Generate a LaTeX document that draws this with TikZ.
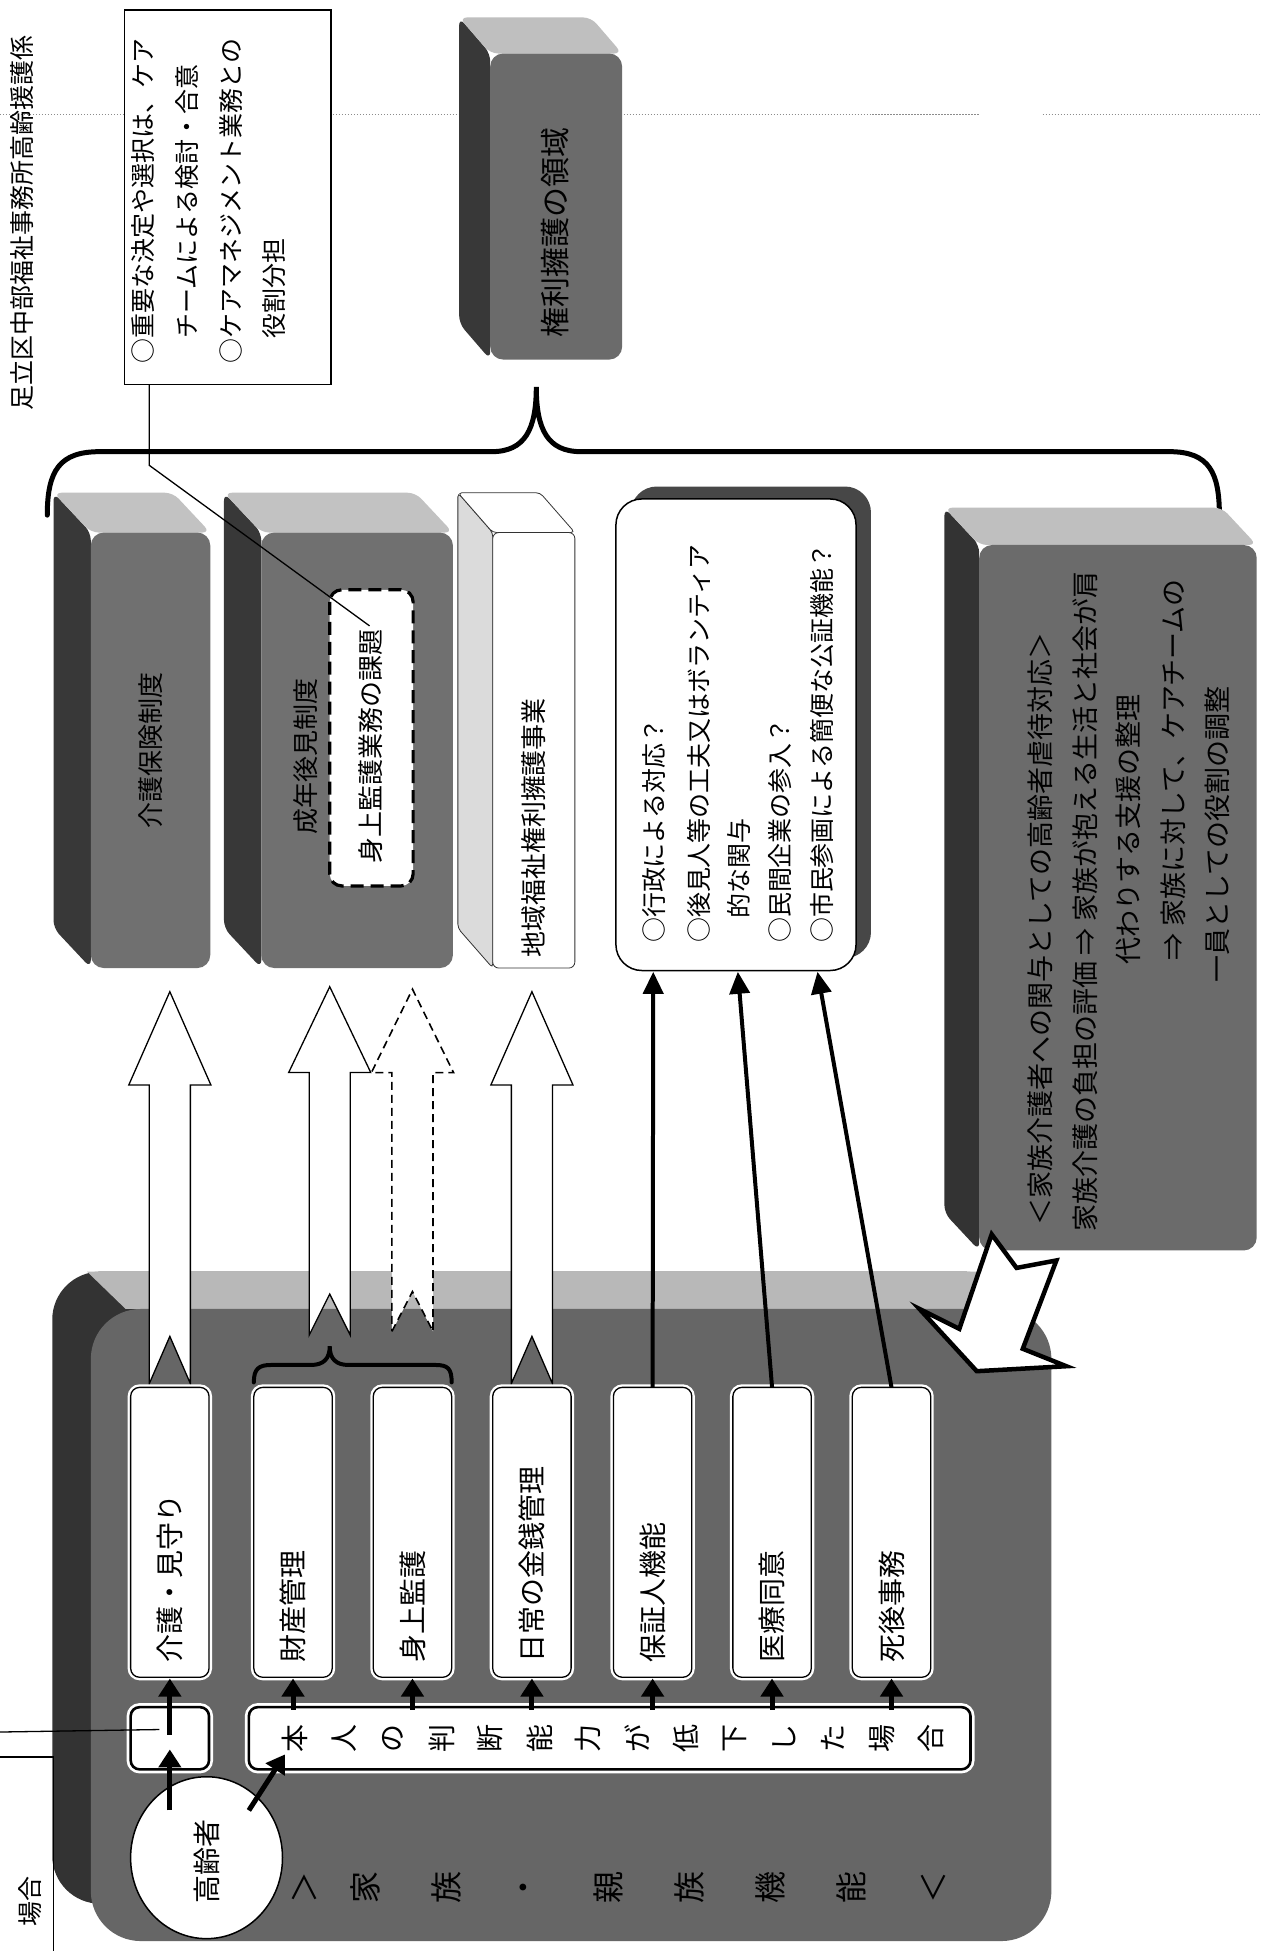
\documentclass[tikz,border=0pt]{standalone}
\usepackage{fontspec}
\setmainfont{Noto Sans CJK JP}
\usetikzlibrary{arrows.meta}
\newcommand{\mybook}[9]{%
  \fill[#9,rounded corners=8pt] ({#1-#5},{#2-#6}) -- ({#1-#5},{#4-#6}) -- (#1,#4) -- (#1,#2) -- cycle;
  \fill[#8,rounded corners=8pt] ({#1-#5},{#2-#6}) -- ({#3-#5},{#2-#6}) -- (#3,#2) -- (#1,#2) -- cycle;
  \fill[#7,rounded corners=13pt] (#1,#2) rectangle (#3,#4);
}
\begin{document}
\begin{tikzpicture}[x=1.245pt,y=-1.245pt,
  vt/.style={rotate=90,inner sep=0pt,text=black},
  fA/.style={font=\fontsize{25}{30}\selectfont},
  fB/.style={font=\fontsize{26}{31}\selectfont},
  fK/.style={font=\fontsize{27}{32}\selectfont},
  fC/.style={font=\fontsize{28}{33}\selectfont},
  fD/.style={font=\fontsize{30}{36}\selectfont},
  fE/.style={font=\fontsize{32}{38}\selectfont},
  whitearrow/.style={fill=white,draw=black,line width=1.3pt,line join=miter},
  blkarrow/.style={draw=black,line width=5pt,-{Triangle[length=18pt,width=22pt]}},
  thinblk/.style={draw=black,line width=4pt,-{Triangle[length=22pt,width=20pt]}},
  itembox/.style={fill=white,draw=black,line width=1.3pt,rounded corners=9pt,preaction={draw=white,line width=6pt}},
  longbox/.style={fill=white,draw=black,line width=2.6pt,rounded corners=9pt,preaction={draw=white,line width=8pt}},
  bracestyle/.style={draw=black,line width=5pt,line cap=round},
]
\useasboundingbox (0,0) rectangle (1013,1568);
\fill[white] (0,0) rectangle (1013,1568);

% faint dotted fold line
\draw[black!45,line width=0.7pt,dash pattern=on 1.5pt off 1.5pt] (0,92) -- (787,92);
\draw[black!45,line width=0.7pt,dash pattern=on 1.5pt off 1.5pt] (838,92) -- (1013,92);

% header
\node[vt,fA,anchor=west] (hdr) at (18,330) {足立区中部福祉事務所高齢援護係};

% top note box
\draw[fill=white,line width=1.5pt] (100,8) rectangle (266,309);
\node[vt,fA,anchor=west] (tb1) at (115,292) {○重要な決定や選択は、ケア};
\node[vt,fA,anchor=west] (tb2) at (150,272) {チームによる検討・合意};
\node[vt,fA,anchor=west] (tb3) at (186,292) {○ケアマネジメント業務との};
\node[vt,fA,anchor=west] (tb4) at (220,272) {役割分担};

% book: rights advocacy domain
\mybook{394}{43}{500}{289}{25}{29}{black!58}{black!25}{black!78}
\node[vt,fD] (b6t) at (446,187) {権利擁護の領域};

% big brace
\draw[bracestyle] (38,414) .. controls (38,378) and (48,363) .. (80,363) -- (395,363) .. controls (422,363) and (431,345) .. (431,311) .. controls (431,345) and (440,363) .. (467,363) -- (940,363) .. controls (972,363) and (980,380) .. (980,414);

% books row
\mybook{73}{428}{169}{778}{30}{32}{black!56}{black!24}{black!78}
\node[vt,fB] (b1t) at (121,603) {介護保険制度};

\mybook{210}{428}{364}{778}{30}{32}{black!56}{black!24}{black!78}
\node[vt,fB] (b2t) at (246,608) {成年後見制度};

% white book
\filldraw[fill=black!14,draw=black!80,line width=0.8pt,rounded corners=4pt] (368,396) -- (368,746) -- (396,778) -- (396,428) -- cycle;
\filldraw[fill=white,draw=black!80,line width=0.8pt,rounded corners=4pt] (368,396) -- (434,396) -- (462,428) -- (396,428) -- cycle;
\filldraw[fill=white,draw=black!80,line width=0.8pt,rounded corners=6pt] (396,428) rectangle (462,778);
\node[vt,fB,anchor=west] (b3t) at (429,770) {地域福祉権利擁護事業};

% white box with shadow
\fill[black!72,rounded corners=26pt] (507,391) rectangle (700,770);
\draw[fill=white,line width=1.5pt,rounded corners=26pt] (495,401) rectangle (688,780);
\node[vt,fA,anchor=west] (q1) at (526,758) {○行政による対応？};
\node[vt,fA,anchor=west] (q2) at (562,758) {○後見人等の工夫又はボランティア};
\node[vt,fA,anchor=west] (q3) at (594,738) {的な関与};
\node[vt,fA,anchor=west] (q4) at (627,758) {○民間企業の参入？};
\node[vt,fA,anchor=west] (q5) at (661,758) {○市民参画による簡便な公証機能？};

% big right book
\mybook{787}{438}{1010}{1005}{28}{30}{black!58}{black!25}{black!80}
\node[vt,fK,anchor=west] (r1) at (836,985) {＜家族介護者への関与としての高齢者虐待対応＞};
\node[vt,fK,anchor=west] (r2) at (872,990) {家族介護の負担の評価\hspace{0.25em}⇒\hspace{0.25em}家族が抱える生活と社会が肩};
\node[vt,fK,anchor=west] (r3) at (907,775) {代わりする支援の整理};
\node[vt,fK,anchor=west] (r4) at (943,772) {⇒\hspace{0.25em}家族に対して、ケアチームの};
\node[vt,fK,anchor=west] (r5) at (978,790) {一員としての役割の調整};

% dashed issue box
\draw[fill=white,draw=black,line width=3.2pt,dash pattern=on 13pt off 7pt,rounded corners=12pt] (265,474) rectangle (332,712);
\node[vt,fB] (dbt) at (298,600) {身上監護業務の課題};

% leader line from note box
\coordinate (tbB) at (120,309);
\coordinate (dbIn) at (297,503);
\draw[line width=1.3pt] (tbB) -- (120,374) -- (dbIn);

% big family box
\fill[black!80,rounded corners=48pt] (42,1022) rectangle (814,1530);
\fill[black!28] (70,1022) -- (790,1022) -- (821,1052) -- (101,1052) -- cycle;
\fill[black!60,rounded corners=50pt] (73,1052) rectangle (845,1560);

% white block arrows
\draw[whitearrow] (120,1112) -- (136.5,1074) -- (153,1112) -- (153,872) -- (169.5,872) -- (136.5,797) -- (103.5,872) -- (120,872) -- cycle;
\draw[whitearrow] (248.5,1073) -- (265,1040) -- (281.5,1073) -- (281.5,862) -- (298,862) -- (265,793) -- (232,862) -- (248.5,862) -- cycle;
\draw[whitearrow,line width=1.6pt,dash pattern=on 8pt off 5pt] (315,1070) -- (331.5,1038) -- (348,1070) -- (348,862) -- (364.5,862) -- (331.5,795) -- (298.5,862) -- (315,862) -- cycle;
\draw[whitearrow] (411,1112) -- (427.5,1074) -- (444,1112) -- (444,872) -- (460.5,872) -- (427.5,797) -- (394.5,872) -- (411,872) -- cycle;

% small bracket
\draw[bracestyle,line width=4pt] (204,1111) .. controls (204,1100) and (208,1097) .. (218,1097) -- (250,1097) .. controls (260,1097) and (265,1092) .. (265,1082) .. controls (265,1092) and (270,1097) .. (280,1097) -- (350,1097) .. controls (360,1097) and (363,1100) .. (363,1111);

% item boxes
\draw[itembox] (105,1115) rectangle (168,1348);
\draw[itembox] (204,1115) rectangle (267,1348);
\draw[itembox] (300,1115) rectangle (363,1348);
\draw[itembox] (396,1115) rectangle (459,1348);
\draw[itembox] (493,1115) rectangle (556,1348);
\draw[itembox] (589,1115) rectangle (652,1348);
\draw[itembox] (685,1115) rectangle (748,1348);
\node[vt,fC,anchor=west] (i1) at (136.5,1336) {介護・見守り};
\node[vt,fC,anchor=west] (i2) at (235.5,1336) {財産管理};
\node[vt,fC,anchor=west] (i3) at (331.5,1336) {身上監護};
\node[vt,fC,anchor=west] (i4) at (427.5,1336) {日常の金銭管理};
\node[vt,fC,anchor=west] (i5) at (524.5,1336) {保証人機能};
\node[vt,fC,anchor=west] (i6) at (620.5,1336) {医療同意};
\node[vt,fC,anchor=west] (i7) at (716.5,1336) {死後事務};

% small box and long box
\draw[longbox] (105,1372) rectangle (168,1422);
\draw[longbox] (200,1372) rectangle (780,1422);
\foreach \ch [count=\i from 0] in {本,人,の,判,断,能,力,が,低,下,し,た,場,合}
  \node[vt,fC] (lb\i) at ({237+\i*39.3},1397) {\ch};

% elder circle
\draw[fill=white,line width=1.5pt] (166,1493) ellipse [x radius=76pt, y radius=81pt];
\node[vt,fC] (kou) at (166,1496) {高齢者};

% family function row
\node[vt,fE] (ff0) at (245,1517) {＞};
\foreach \ch [count=\i from 0] in {家,族,・,親,族,機,能}
  \node[vt,fE] (ff\i x) at ({294+\i*65},1517) {\ch};
\node[vt,fE] (ff9) at (750,1517) {＜};

% short black arrows
\foreach \cx [count=\i] in {235.5,331.5,427.5,524.5,620.5,716.5} {
  \coordinate (lbT\i) at (\cx,1374);
  \coordinate (itB\i) at (\cx,1349);
  \draw[blkarrow] (lbT\i) -- (itB\i);
}
\coordinate (cirT) at (136.5,1455);
\coordinate (sbIn) at (136.5,1406);
\coordinate (sbMid) at (136.5,1394);
\coordinate (kaiB) at (136.5,1349);
\coordinate (cirR) at (200,1455);
\coordinate (lbBL) at (229,1410);
\draw[blkarrow] (cirT) -- (sbIn);
\draw[blkarrow] (sbMid) -- (kaiB);
\draw[blkarrow] (cirR) -- (lbBL);

% thin black arrows to the question box
\coordinate (hoT) at (524.5,1115);
\coordinate (iryoT) at (620.5,1115);
\coordinate (shiT) at (716.5,1115);
\coordinate (qB1) at (525,781);
\coordinate (qB2) at (593,781);
\coordinate (qB3) at (657,781);
\draw[thinblk] (hoT) -- (qB1);
\draw[thinblk] (iryoT) -- (qB2);
\draw[thinblk] (shiT) -- (qB3);

% hollow arrow from right book to family box
\draw[fill=white,line width=4.5pt,line join=miter] (797,992) -- (817,1019) -- (849,1013) -- (822,1084) -- (857,1098) -- (785,1102) -- (739,1052) -- (771,1068) -- cycle;

% bottom-left fragments
\coordinate (edgeL) at (0,1392);
\coordinate (sbL) at (128,1390);
\draw[line width=1.3pt] (edgeL) -- (sbL);
\draw[line width=1.5pt] (0,1412) -- (43,1412) -- (43,1568);
\node[vt,fA] (baai) at (24,1528) {場合};
\end{tikzpicture}
\end{document}
